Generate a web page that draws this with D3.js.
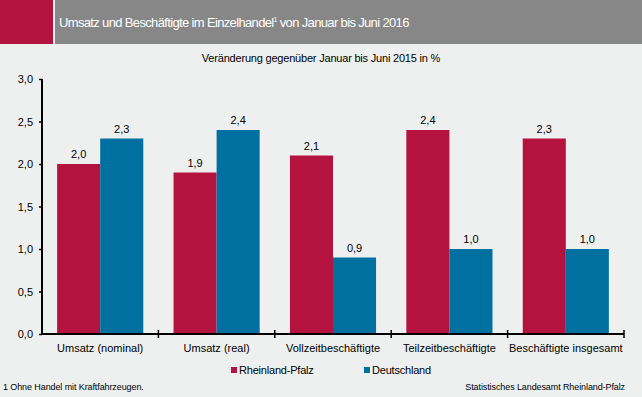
<!doctype html>
<html lang="de">
<head>
  <meta charset="utf-8">
  <title>Umsatz und Beschäftigte im Einzelhandel</title>
  <style>
    * { margin: 0; padding: 0; box-sizing: border-box; }
    body { background: #eef0ef; }
    svg { display: block; font-family: "Liberation Sans", Arial, sans-serif; }
  </style>
</head>
<body>
  <div class="chart"></div>
  <script src="https://cdn.jsdelivr.net/npm/d3@7/dist/d3.min.js"></script>
  <script>
    // ---------------------------------------------------------------
    //@@ data
    const categories = ['Umsatz (nominal)', 'Umsatz (real)', 'Vollzeitbeschäftigte', 'Teilzeitbeschäftigte', 'Beschäftigte insgesamt'];
    const seriesNames = ['Rheinland-Pfalz', 'Deutschland'];
    const rlp = [2.0, 1.9, 2.1, 2.4, 2.3];
    const de = [2.3, 2.4, 0.9, 1.0, 1.0];
    const yTicks = [0, 0.5, 1.0, 1.5, 2.0, 2.5, 3.0];
    const colors = ['#b5133f', '#0070a0'];

    const data = categories.map((c, i) => ({cat: c, values: [rlp[i], de[i]]}));
    const fmt = v => d3.format('.1f')(v).replace('.', ',');

    //@@ svg
    const W = 642, H = 397;
    const plot = {l: 42, r: 624, t: 79, b: 334};

    const svg = d3.select('.chart').append('svg')
      .attr('width', W).attr('height', H);

    svg.append('rect').attr('width', W).attr('height', H).attr('fill', '#eef0ef');

    //@@ header
    svg.append('rect').attr('x', 0).attr('y', 0).attr('width', 53).attr('height', 44).attr('fill', '#b5133f');
    svg.append('rect').attr('x', 55).attr('y', 0).attr('width', W - 55).attr('height', 44).attr('fill', '#878787');
    const title = svg.append('text')
      .attr('x', 59).attr('y', 27)
      .attr('fill', '#fff')
      .style('font-size', '13px')
      .style('letter-spacing', '-0.65px');
    title.append('tspan').text('Umsatz und Beschäftigte im Einzelhandel');
    title.append('tspan').attr('dy', -5).style('font-size', '7px').text('1');
    title.append('tspan').attr('dy', 5).text(' von Januar bis Juni 2016');

    svg.append('text')
      .attr('x', 321).attr('y', 62)
      .attr('text-anchor', 'middle')
      .style('font-size', '11px')
      .style('letter-spacing', '-0.2px')
      .attr('fill', '#000')
      .text('Veränderung gegenüber Januar bis Juni 2015 in %');

    //@@ scales
    const x0 = d3.scaleBand().domain(categories).range([plot.l, plot.r]).paddingInner(0.26).paddingOuter(0.13);
    const x1 = d3.scaleBand().domain([0, 1]).range([0, x0.bandwidth()]);
    const y = d3.scaleLinear().domain([0, 3]).range([plot.b, plot.t]);

    //@@ bars
    const groups = svg.append('g').selectAll('g').data(data).enter().append('g')
      .attr('transform', d => `translate(${x0(d.cat)},0)`);

    groups.selectAll('rect').data(d => d.values).enter().append('rect')
      .attr('x', (d, i) => x1(i))
      .attr('y', d => y(d))
      .attr('width', x1.bandwidth())
      .attr('height', d => y(0) - y(d))
      .attr('fill', (d, i) => colors[i]);

    groups.selectAll('text').data(d => d.values).enter().append('text')
      .attr('x', (d, i) => x1(i) + x1.bandwidth() / 2)
      .attr('y', d => y(d) - 6)
      .attr('text-anchor', 'middle')
      .style('font-size', '11px')
      .text(fmt);

    //@@ y axis
    const axisY = d3.axisLeft(y).tickValues(yTicks).tickFormat(fmt).tickSize(3).tickPadding(6);
    const gY = svg.append('g').attr('transform', `translate(${plot.l},0)`).call(axisY);
    gY.select('.domain').attr('d', `M0,${plot.t}V${plot.b}`).attr('stroke-width', 2);
    gY.selectAll('.tick line').attr('stroke-width', 1.5);
    gY.selectAll('text').style('font-size', '11px').style('font-family', '"Liberation Sans", Arial, sans-serif').attr('fill', '#000');

    //@@ x axis
    const gX = svg.append('g').attr('transform', `translate(0,${plot.b})`);
    gX.append('line').attr('x1', plot.l - 1).attr('x2', plot.r).attr('stroke', '#000').attr('stroke-width', 2);
    const step = x0.step();
    const bounds = d3.range(categories.length + 1).map(i => plot.l + i * step);
    gX.selectAll('.sep').data(bounds.slice(1)).enter().append('line')
      .attr('x1', d => d).attr('x2', d => d)
      .attr('y1', -4).attr('y2', 4)
      .attr('stroke', '#000').attr('stroke-width', 1.5);
    gX.selectAll('.lbl').data(categories).enter().append('text')
      .attr('x', d => x0(d) + x0.bandwidth() / 2)
      .attr('y', 18)
      .attr('text-anchor', 'middle')
      .style('font-size', '11px')
      .text(d => d);

    //@@ legend
    const legendX = [231, 364];
    const lg = svg.append('g').selectAll('g').data(seriesNames).enter().append('g')
      .attr('transform', (d, i) => `translate(${legendX[i]},367)`);
    lg.append('rect').attr('width', 6).attr('height', 6).attr('fill', (d, i) => colors[i]);
    lg.append('text').attr('x', 8).attr('y', 7).style('font-size', '11px').style('letter-spacing', '-0.2px').text(d => d);

    //@@ footer
    svg.append('text').attr('x', 3).attr('y', 390).style('font-size', '9px').style('letter-spacing', '-0.1px')
      .text('1 Ohne Handel mit Kraftfahrzeugen.');
    svg.append('text').attr('x', 625).attr('y', 390).attr('text-anchor', 'end').style('font-size', '9px').style('letter-spacing', '-0.1px')
      .text('Statistisches Landesamt Rheinland-Pfalz');
  </script>
</body>
</html>
